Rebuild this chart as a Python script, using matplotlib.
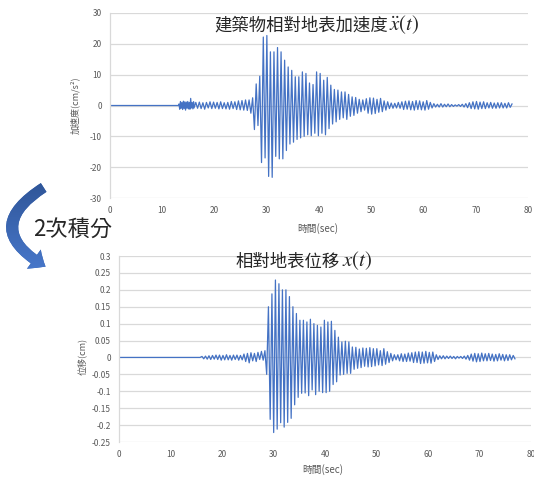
import numpy as np
import matplotlib
matplotlib.use("Agg")
import matplotlib.pyplot as plt
from matplotlib.patches import FancyArrowPatch
from matplotlib.colors import LinearSegmentedColormap
from matplotlib.offsetbox import TextArea, HPacker, AnnotationBbox

plt.rcParams['font.family'] = ['Noto Sans CJK TC', 'DejaVu Sans']
plt.rcParams['mathtext.fontset'] = 'stix'

# ---------------- data ----------------
# quiet start (both series)
acc_flat_time = [0.0, 13.1]
acc_flat = [0.0, 0.0]
disp_flat_time = [0.0, 15.7]
disp_flat = [0.0, 0.0]

# early high-frequency burst of acceleration (starting 13.2 s, every 0.14 s)
acc_burst_start = 13.2
acc_burst_step = 0.14
acc_burst = [0.5, -1.2, 1.3, -0.9, 1.0, -1.3, 1.4, -1.0, 1.2, -1.5,
             1.1, -0.9, 1.3, -1.1, 1.0, -1.2, 2.3, -0.8, 1.0, -1.1,
             1.2]

# main record: extreme values every 0.34 s starting at 16.08 s
main_start = 16.08
main_step = 0.34
acc_main = [
    -0.8, 1.0, -0.9, 1.1, -1.0, 0.9, -1.2, 1.0, -0.8, 1.2,
    -1.0, 1.1, -0.9, 1.0, -1.1, 1.2, -1.0, 0.9, -1.1, 1.0,
    -1.2, 1.3, -1.0, 1.2, -1.3, 1.5, -1.4, 1.6, -1.5, 1.8,
    -1.6, 1.8, -2.5, 2.5, -7.8, 7.0, -6.5, 9.5, -18.5, 22.2,
    -17.0, 22.7, -23.0, 17.4, -23.3, 17.4, -16.5, 18.8, -17.3, 17.4,
    -17.3, 14.7, -14.6, 12.5, -12.5, 11.4, -11.9, 9.3, -11.0, 9.3,
    -10.5, 10.9, -10.0, 10.4, -9.5, 7.3, -9.8, 6.8, -9.0, 10.9,
    -9.8, 10.4, -9.0, 8.2, -9.5, 9.1, -7.5, 6.6, -6.0, 5.2,
    -5.3, 5.0, -4.5, 4.4, -4.0, 4.4, -4.5, 3.6, -3.5, 2.8,
    -3.2, 2.6, -2.5, 2.0, -2.0, 1.8, -1.5, 2.2, -2.5, 2.5,
    -2.8, 2.4, -2.6, 2.0, -2.2, 2.3, -2.0, 1.5, -1.5, 1.2,
    -1.0, 0.8, -0.9, 0.7, -0.8, 1.0, -0.9, 1.2, -1.3, 1.4,
    -1.2, 1.5, -1.4, 1.3, -1.5, 1.6, -1.3, 1.5, -1.4, 1.2,
    -1.5, 1.6, -1.2, 1.0, -0.8, 0.6, -0.5, 0.4, -0.5, 0.6,
    -0.5, 0.4, -0.4, 0.5, -0.4, 0.3, -0.3, 0.2, -0.2, 0.3,
    -0.3, 0.4, -0.5, 0.6, -0.7, 0.9, -1.0, 1.2, -1.1, 1.3,
    -1.2, 1.1, -1.0, 1.2, -1.0, 0.9, -0.8, 1.0, -0.9, 0.8,
    -0.9, 0.9, -0.8, 0.9, -0.8, 0.7, -0.8, 0.9, -0.6, 0.5]

disp_main = [
    0.003, -0.004, 0.004, -0.005, 0.005, -0.006, 0.006, -0.005, 0.007, -0.006,
    0.007, -0.008, 0.006, -0.007, 0.008, -0.007, 0.006, -0.008, 0.007, -0.006,
    0.007, -0.008, 0.006, -0.007, 0.010, -0.012, 0.012, -0.016, 0.014, -0.010,
    0.012, -0.012, 0.015, -0.006, 0.018, -0.008, 0.020, -0.050, 0.150, -0.183,
    0.188, -0.222, 0.229, -0.212, 0.218, -0.193, 0.200, -0.206, 0.200, -0.192,
    0.180, -0.180, 0.150, -0.140, 0.130, -0.118, 0.110, -0.106, 0.110, -0.105,
    0.105, -0.113, 0.113, -0.096, 0.100, -0.110, 0.095, -0.100, 0.090, -0.104,
    0.110, -0.104, 0.105, -0.100, 0.107, -0.080, 0.080, -0.072, 0.060, -0.052,
    0.046, -0.050, 0.048, -0.047, 0.046, -0.047, 0.031, -0.035, 0.030, -0.032,
    0.025, -0.030, 0.028, -0.026, 0.027, -0.028, 0.029, -0.027, 0.026, -0.025,
    0.026, -0.022, 0.020, -0.024, 0.026, -0.020, 0.017, -0.015, 0.012, -0.010,
    0.008, -0.007, 0.008, -0.010, 0.011, -0.012, 0.010, -0.012, 0.013, -0.011,
    0.014, -0.015, 0.016, -0.015, 0.017, -0.018, 0.016, -0.017, 0.018, -0.016,
    0.015, -0.017, 0.016, -0.012, 0.008, -0.006, 0.005, -0.004, 0.005, -0.004,
    0.004, -0.003, 0.004, -0.003, 0.003, -0.004, 0.003, -0.002, 0.003, -0.003,
    0.004, -0.005, 0.006, -0.008, 0.010, -0.011, 0.012, -0.013, 0.011, -0.012,
    0.013, -0.010, 0.011, -0.010, 0.012, -0.009, 0.010, -0.011, 0.009, -0.010,
    0.011, -0.008, 0.009, -0.010, 0.008, -0.009, 0.008, -0.007, 0.006, -0.004]

x_ticks = [0, 10, 20, 30, 40, 50, 60, 70, 80]
acc_ticks = [-30, -20, -10, 0, 10, 20, 30]
acc_tick_labels = ['-30', '-20', '-10', '0', '10', '20', '30']
disp_ticks = [-0.25, -0.2, -0.15, -0.1, -0.05, 0, 0.05, 0.1, 0.15, 0.2, 0.25, 0.3]
disp_tick_labels = ['-0.25', '-0.2', '-0.15', '-0.1', '-0.05', '0',
                    '0.05', '0.1', '0.15', '0.2', '0.25', '0.3']

acc_title_text = '建築物相對地表加速度'
acc_title_math = r'$\ddot{x}(t)$'
disp_title_text = '相對地表位移'
disp_title_math = r'$x(t)$'
acc_ylabel = '加速度(cm/s²)'
disp_ylabel = '位移(cm)'
time_label = '時間(sec)'
arrow_label = '2次積分'

# ---------------- build time axes ----------------
acc_time = np.concatenate([
    np.array(acc_flat_time),
    acc_burst_start + acc_burst_step * np.arange(len(acc_burst)),
    main_start + main_step * np.arange(len(acc_main))])
acc_vals = np.concatenate([acc_flat, acc_burst, acc_main])

disp_time = np.concatenate([
    np.array(disp_flat_time),
    main_start + main_step * np.arange(len(disp_main))])
disp_vals = np.concatenate([disp_flat, disp_main])

# ---------------- figure ----------------
W, H = 534, 479
fig = plt.figure(figsize=(W / 100, H / 100), dpi=100)
fig.patch.set_facecolor('white')

def fx(px):
    return px / W

def fy(py):
    return 1 - py / H

LINE = '#4472C4'
GRID = '#D9D9D9'
TICK = '#595959'
TXT = '#262626'

def style_axes(ax, xt, yt, ytl, ylim):
    ax.set_xlim(0, 80)
    ax.set_ylim(*ylim)
    ax.set_xticks(xt)
    ax.set_xticklabels([str(v) for v in xt])
    ax.set_yticks(yt)
    ax.set_yticklabels(ytl)
    ax.grid(axis='y', color=GRID, linewidth=0.9)
    ax.set_axisbelow(True)
    for s in ['top', 'right', 'bottom']:
        ax.spines[s].set_visible(False)
    ax.spines['left'].set_color(GRID)
    ax.spines['left'].set_linewidth(0.9)
    ax.tick_params(length=0, labelsize=6, colors=TICK, pad=6)

# top chart
ax1 = fig.add_axes([fx(110), fy(198), fx(528) - fx(110), fy(13) - fy(198)])
ax1.plot(acc_time, acc_vals, color=LINE, linewidth=0.9)
style_axes(ax1, x_ticks, acc_ticks, acc_tick_labels, (-30, 30))

# bottom chart
ax2 = fig.add_axes([fx(119.3), fy(442), fx(530.7) - fx(119.3), fy(256) - fy(442)])
ax2.plot(disp_time, disp_vals, color=LINE, linewidth=0.9)
style_axes(ax2, x_ticks, disp_ticks, disp_tick_labels, (-0.25, 0.3))

# titles: CJK part + larger math part, centred together
def add_title(cjk, math, cx, cy):
    t1 = TextArea(cjk, textprops=dict(fontsize=12.5, color=TXT))
    t2 = TextArea(math, textprops=dict(fontsize=15, color=TXT))
    box = HPacker(children=[t1, t2], align='baseline', pad=0, sep=1)
    ab = AnnotationBbox(box, (fx(cx), fy(cy)), xycoords='figure fraction',
                        frameon=False, box_alignment=(0.5, 0.5), pad=0)
    fig.add_artist(ab)

add_title(acc_title_text, acc_title_math, 317, 25)
add_title(disp_title_text, disp_title_math, 304, 261)

fig.text(fx(75), fy(105), acc_ylabel, ha='center', va='center', rotation=90, fontsize=6.5, color=TICK)
fig.text(fx(83), fy(356), disp_ylabel, ha='center', va='center', rotation=90, fontsize=6.5, color=TICK)
fig.text(fx(318), fy(229), time_label, ha='center', va='center', fontsize=7, color=TICK)
fig.text(fx(323), fy(470), time_label, ha='center', va='center', fontsize=7, color=TICK)
fig.text(fx(73), fy(230), arrow_label, ha='center', va='center', fontsize=16, color=TXT)

# curved arrow overlay
ov = fig.add_axes([0, 0, 1, 1], zorder=5)
ov.set_xlim(0, W)
ov.set_ylim(H, 0)
ov.axis('off')
ov.patch.set_alpha(0)
arrow = FancyArrowPatch((46, 186), (48, 268),
                        connectionstyle='arc3,rad=0.85',
                        arrowstyle='simple,head_length=1.0,head_width=1.7,tail_width=0.75',
                        mutation_scale=10, transform=ov.transData,
                        facecolor='#3A66B3', edgecolor='none')
ov.add_patch(arrow)
cmap = LinearSegmentedColormap.from_list('g', ['#2F5597', '#4A7BD0'])
grad = np.linspace(0, 1, 100).reshape(-1, 1)
im = ov.imshow(grad, extent=[0, 80, 280, 180], cmap=cmap, aspect='auto', zorder=6)
im.set_clip_path(arrow)

fig.savefig('out.png', dpi=100)
